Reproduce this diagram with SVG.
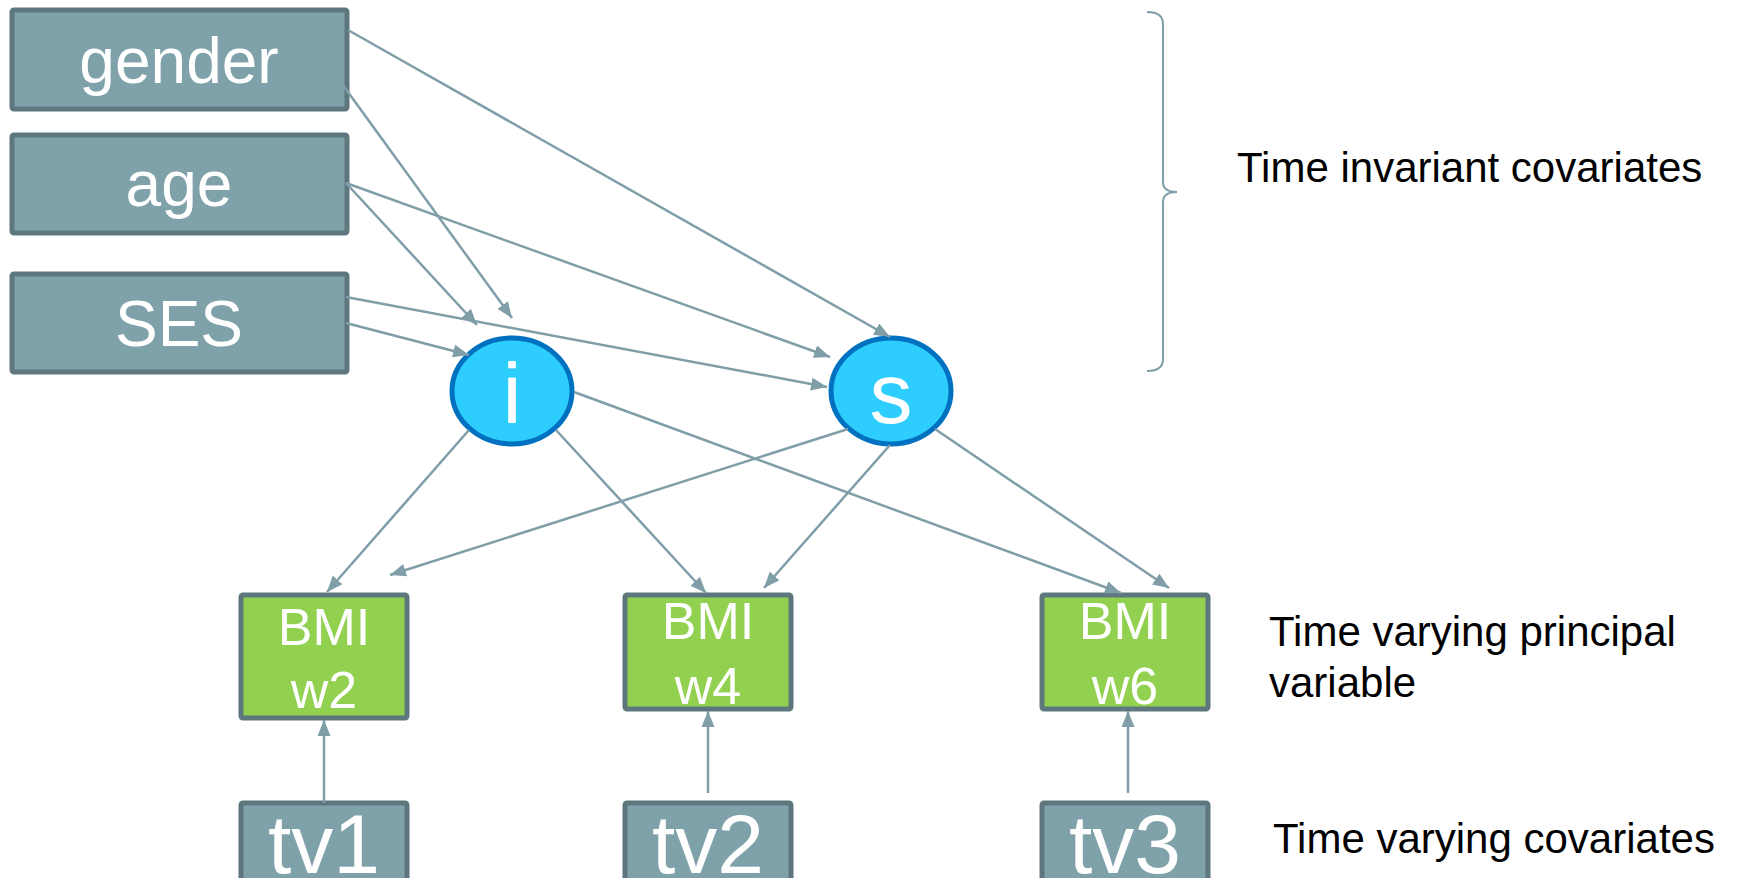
<svg xmlns="http://www.w3.org/2000/svg" width="1738" height="878" viewBox="0 0 1738 878">
<style>
.box{fill:#7FA2AA;stroke:#5E767E;stroke-width:5}
.bmi{fill:#92D050;stroke:#5E767E;stroke-width:5}
.lat{fill:#2DCDFE;stroke:#0070C0;stroke-width:5}
.nt{font-family:"Liberation Sans",Arial,sans-serif;fill:#FFFFFF;text-anchor:middle}
.lbl{font-family:"Liberation Sans",Arial,sans-serif;fill:#000000;font-size:42px}
.edge{stroke:#7F9EA8;stroke-width:2.5;fill:none;marker-end:url(#arr)}
.brace{stroke:#7F9EA8;stroke-width:2;fill:none}
</style>
<defs>
<marker id="arr" markerUnits="userSpaceOnUse" markerWidth="17" markerHeight="13" refX="16" refY="6.5" orient="auto">
<path d="M0,0 L16,6.5 L0,13 z" fill="#7F9EA8"/>
</marker>
</defs>
<rect width="1738" height="878" fill="#FFFFFF"/>
<g id="gender"><rect class="box" x="12" y="10" width="335" height="99" rx="2"/><text class="nt" x="179" y="83" font-size="64">gender</text></g>
<g id="age"><rect class="box" x="12" y="135" width="335" height="98" rx="2"/><text class="nt" x="179" y="206" font-size="64">age</text></g>
<g id="SES"><rect class="box" x="12" y="274" width="335" height="98" rx="2"/><text class="nt" x="179" y="346" font-size="64">SES</text></g>
<g id="i"><ellipse class="lat" cx="512" cy="391" rx="60" ry="53"/><text class="nt" x="512" y="423" font-size="86">i</text></g>
<g id="s"><ellipse class="lat" cx="891" cy="391" rx="60" ry="53"/><text class="nt" x="891" y="423" font-size="86">s</text></g>
<g id="bmi_w2"><rect class="bmi" x="241" y="595" width="166" height="123" rx="2"/><text class="nt" x="324" y="645" font-size="52">BMI</text><text class="nt" x="324" y="708" font-size="52">w2</text></g>
<g id="bmi_w4"><rect class="bmi" x="625" y="595" width="166" height="114" rx="2"/><text class="nt" x="708" y="639" font-size="52">BMI</text><text class="nt" x="708" y="704" font-size="52">w4</text></g>
<g id="bmi_w6"><rect class="bmi" x="1042" y="595" width="166" height="114" rx="2"/><text class="nt" x="1125" y="639" font-size="52">BMI</text><text class="nt" x="1125" y="704" font-size="52">w6</text></g>
<g id="tv1"><rect class="box" x="241" y="803" width="166" height="100" rx="2"/><text class="nt" x="324" y="873" font-size="84">tv1</text></g>
<g id="tv2"><rect class="box" x="625" y="803" width="166" height="100" rx="2"/><text class="nt" x="708" y="873" font-size="84">tv2</text></g>
<g id="tv3"><rect class="box" x="1042" y="803" width="166" height="100" rx="2"/><text class="nt" x="1125" y="873" font-size="84">tv3</text></g>
<g id="connectors">
<line class="edge" x1="348" y1="30" x2="890" y2="337"/>
<line class="edge" x1="316" y1="48" x2="512" y2="318"/>
<line class="edge" x1="346" y1="183" x2="477" y2="325"/>
<line class="edge" x1="346" y1="183" x2="830" y2="357"/>
<line class="edge" x1="346" y1="297" x2="827" y2="387"/>
<line class="edge" x1="346" y1="323" x2="469" y2="355"/>
<line class="edge" x1="469" y1="430" x2="327" y2="592"/>
<line class="edge" x1="556" y1="430" x2="706" y2="593"/>
<line class="edge" x1="574" y1="392" x2="1121" y2="593"/>
<line class="edge" x1="848" y1="429" x2="390" y2="575"/>
<line class="edge" x1="890" y1="445" x2="764" y2="588"/>
<line class="edge" x1="935" y1="429" x2="1169" y2="588"/>
<line class="edge" x1="324" y1="803" x2="324" y2="720"/>
<line class="edge" x1="708" y1="793" x2="708" y2="711"/>
<line class="edge" x1="1128" y1="793" x2="1128" y2="711"/>
</g>
<path class="brace" d="M1147,12 Q1163,12 1163,24 L1163,182 Q1163,192 1177,192 Q1163,192 1163,202 L1163,359 Q1163,371 1147,371"/>
<text class="lbl" x="1237" y="182">Time invariant covariates</text>
<text class="lbl" x="1269" y="646">Time varying principal</text>
<text class="lbl" x="1269" y="697">variable</text>
<text class="lbl" x="1273" y="853">Time varying covariates</text>
</svg>
